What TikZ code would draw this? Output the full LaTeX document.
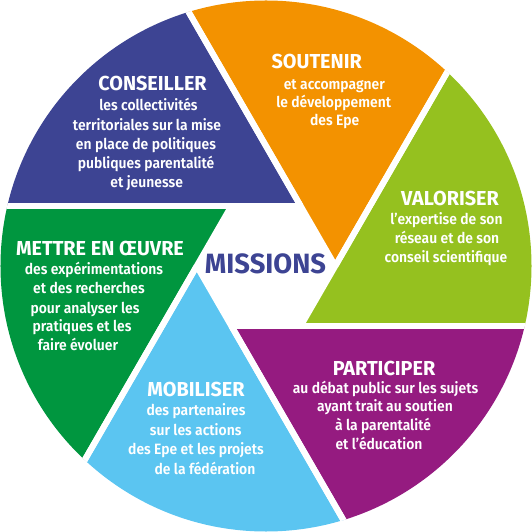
\documentclass[tikz,border=0pt]{standalone}
\usepackage{fontspec}
\setmainfont{Fira Sans}[UprightFont=* Medium, BoldFont=* SemiBold]
\newfontfamily\bodyf{Fira Sans SemiBold}[FakeStretch=0.93]
\newfontfamily\titlef{Fira Sans Bold}[FakeStretch=0.98]
\definecolor{cblue}{HTML}{3D4493}
\definecolor{corange}{HTML}{F39200}
\definecolor{clime}{HTML}{95C11F}
\definecolor{cpurple}{HTML}{951B80}
\definecolor{clblue}{HTML}{5BC5F1}
\definecolor{cgreen}{HTML}{00963F}
\tikzset{
  ttl/.style={text=white, anchor=base, inner sep=0pt, font=\titlef\fontsize{20.3}{24}\selectfont},
  txt/.style={text=white, anchor=base, inner sep=0pt, font=\bodyf\fontsize{15}{19}\selectfont},
  gap/.style={white, line width=6bp}
}
\begin{document}
\begin{tikzpicture}[x=1bp,y=1bp]
\useasboundingbox (-266,-266) rectangle (266,266);
\begin{scope}
  \clip (0,0) circle (265.5);
  \foreach \a/\c in {60/cblue, 0/corange, -60/clime, -120/cpurple, 180/clblue, 120/cgreen}{
    \fill[\c] (\a:69.28) -- ++(\a+60:600) -- ++(\a+180:600) -- cycle;
  }
  \foreach \a in {60, 0, -60, -120, 180, 120}{
    \draw[gap] (\a:69.28) -- ++(\a+60:600);
    \draw[gap] (\a:69.28) -- ++(\a+120:600);
  }
\end{scope}
% CONSEILLER
\node[ttl] (t1) at (-113.5,175.3) {CONSEILLER};
\node[txt] (c1) at (-117.5,155) {les collectivités};
\node[txt] (c2) at (-119,135) {territoriales sur la mise};
\node[txt] (c3) at (-120,116) {en place de politiques};
\node[txt] (c4) at (-120,97) {publiques parentalité};
\node[txt] (c5) at (-119.3,78.7) {et jeunesse};
% SOUTENIR
\node[ttl] (t2) at (50.7,197) {SOUTENIR};
\node[txt] (s1) at (68.3,176.7) {et accompagner};
\node[txt] (s2) at (67.7,158.3) {le développement};
\node[txt] (s3) at (68.7,140) {des Epe};
% VALORISER
\node[ttl] (t3) at (184,60.3) {VALORISER};
\node[txt] (v1) at (180.5,41.7) {l’expertise de son};
\node[txt] (v2) at (181,22.7) {réseau et de son};
\node[txt] (v3) at (180,3.7) {conseil scientifique};
% METTRE EN OEUVRE
\node[ttl] (t4) at (-166,10) {METTRE EN ŒUVRE};
\node[txt] (m1) at (-172,-9) {des expérimentations};
\node[txt] (m2) at (-177,-28) {et des recherches};
\node[txt] (m3) at (-181,-47.3) {pour analyser les};
\node[txt] (m4) at (-184,-65.7) {pratiques et les};
\node[txt] (m5) at (-188,-84.7) {faire évoluer};
% MOBILISER
\node[ttl] (t5) at (-70,-130.7) {MOBILISER};
\node[txt] (b1) at (-70,-149.7) {des partenaires};
\node[txt] (b2) at (-70.3,-169) {sur les actions};
\node[txt] (b3) at (-70,-188) {des Epe et les projets};
\node[txt] (b4) at (-61,-208) {de la fédération};
% PARTICIPER
\node[ttl] (t6) at (118,-109) {PARTICIPER};
\node[txt] (p1) at (119.5,-127.3) {au débat public sur les sujets};
\node[txt] (p2) at (119,-145) {ayant trait au soutien};
\node[txt] (p3) at (117,-164.3) {à la parentalité};
\node[txt] (p4) at (113,-183.3) {et l’éducation};
% centre
\node[anchor=base, inner sep=0pt, text=cblue, font=\titlef\fontsize{28}{32}\selectfont] (mis) at (-0.5,-7.3) {MISSIONS};
\end{tikzpicture}
\end{document}
